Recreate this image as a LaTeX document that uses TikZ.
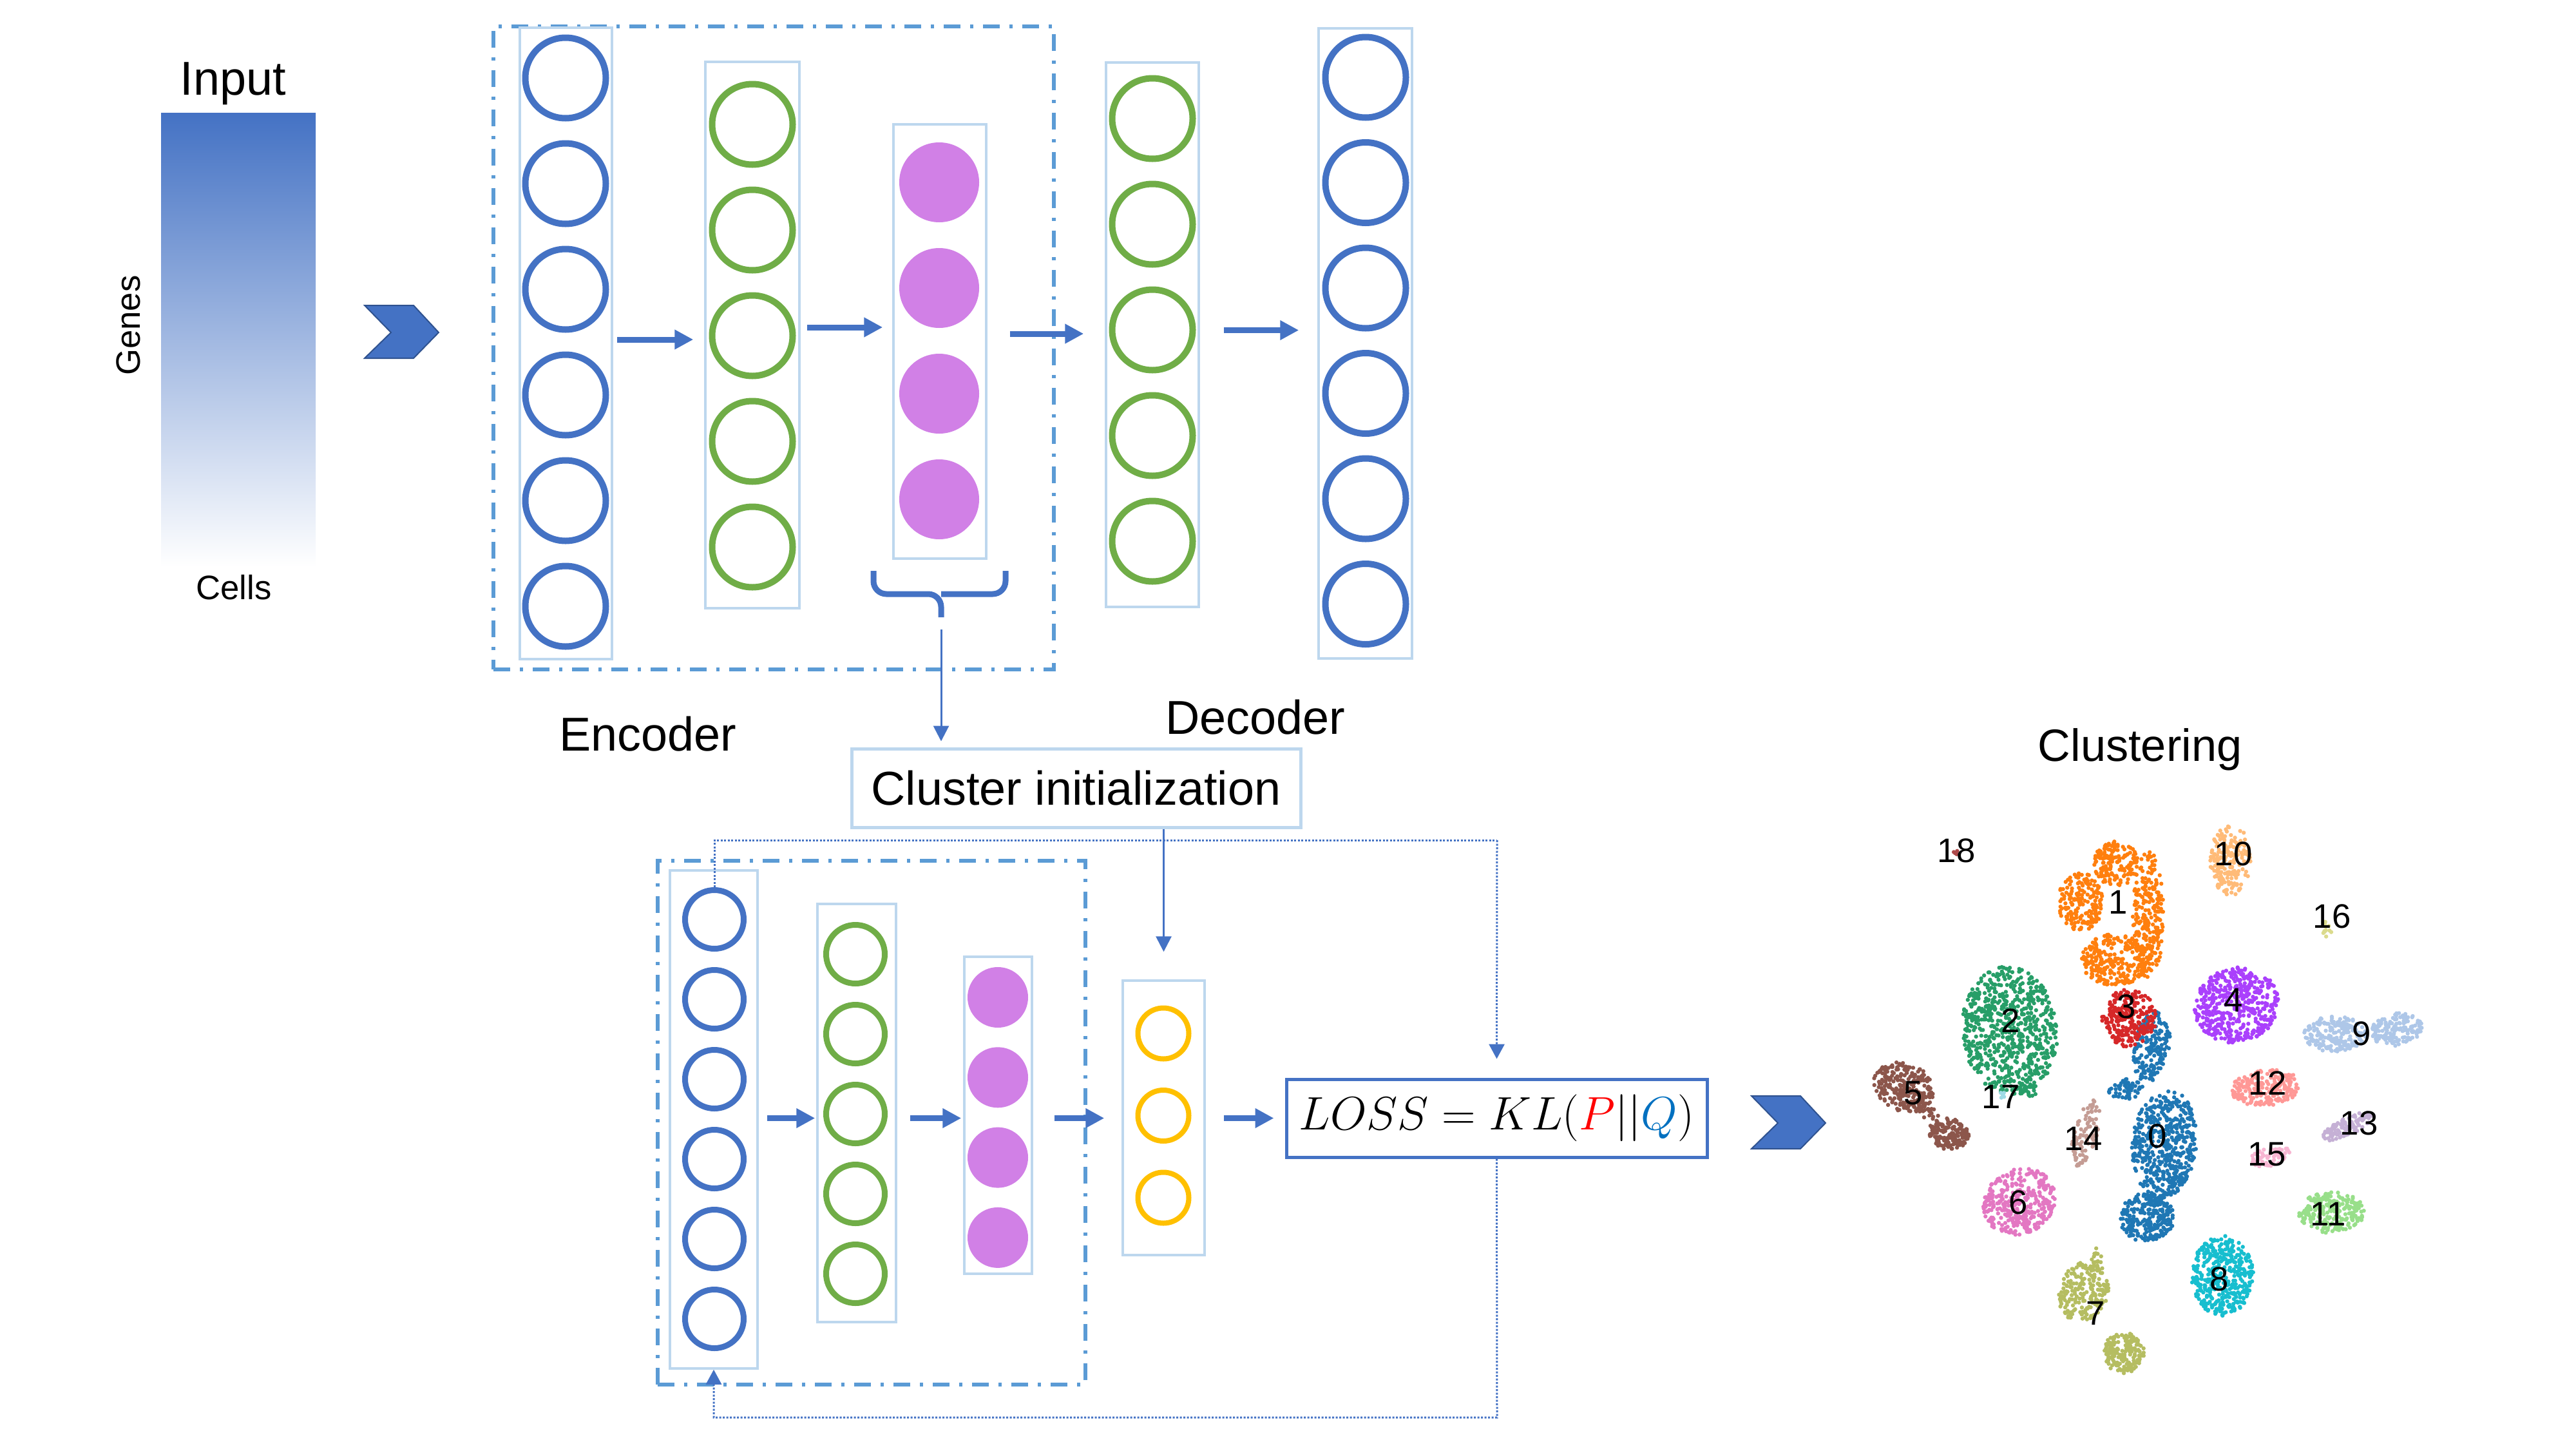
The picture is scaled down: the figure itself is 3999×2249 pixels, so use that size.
\documentclass[tikz,border=0pt]{standalone}
\usepackage[no-math]{fontspec}
\setmainfont{Liberation Sans}
\usetikzlibrary{arrows.meta,positioning,calc}
\definecolor{nnblue}{HTML}{4472C4}
\definecolor{nngreen}{HTML}{70AD47}
\definecolor{nnviolet}{HTML}{D180E6}
\definecolor{nnyellow}{HTML}{FFC000}
\definecolor{boxblue}{HTML}{BDD7EE}
\definecolor{dashblue}{HTML}{5B9BD5}
\definecolor{chevdark}{HTML}{2F528F}
\definecolor{qblue}{HTML}{0070C0}
\definecolor{c0}{HTML}{1F77B4}
\definecolor{c1}{HTML}{FF7F0E}
\definecolor{c2}{HTML}{279E68}
\definecolor{c3}{HTML}{D62728}
\definecolor{c4}{HTML}{AA40FC}
\definecolor{c5}{HTML}{8C564B}
\definecolor{c6}{HTML}{E377C2}
\definecolor{c7}{HTML}{B5BD61}
\definecolor{c8}{HTML}{17BECF}
\definecolor{c9}{HTML}{AEC7E8}
\definecolor{c10}{HTML}{FFBB78}
\definecolor{c11}{HTML}{98DF8A}
\definecolor{c12}{HTML}{FF9896}
\definecolor{c13}{HTML}{C5B0D5}
\definecolor{c14}{HTML}{C49C94}
\definecolor{c15}{HTML}{F7B6D2}
\definecolor{c16}{HTML}{DBDB8D}
\definecolor{c17}{HTML}{9EDAE5}
\definecolor{c18}{HTML}{AD494A}

\begin{document}
\begin{tikzpicture}[x=0.1mm,y=-0.1mm,
  ring/.style={circle,draw=#1,line width=1mm,minimum size=12.5mm,inner sep=0pt},
  dotn/.style={circle,fill=nnviolet,minimum size=12.4mm,inner sep=0pt},
  lring/.style={circle,draw=#1,line width=0.9mm,minimum size=9.1mm,inner sep=0pt},
  ldot/.style={circle,fill=nnviolet,minimum size=9.4mm,inner sep=0pt},
  yring/.style={circle,draw=nnyellow,line width=0.8mm,minimum size=7.9mm,inner sep=0pt},
  colbox/.style={draw=boxblue,line width=0.35mm,inner sep=0pt},
  encbox/.style={draw=dashblue,line width=0.55mm,inner sep=0pt,
    dash pattern=on 2.6mm off 1.5mm on 0.5mm off 1.5mm},
  flow/.style={nnblue,line width=0.9mm,-{Triangle[length=2.9mm,width=2.9mm]}},
  thinflow/.style={nnblue,line width=0.3mm,-{Triangle[length=2.4mm,width=2.4mm]}},
  loopline/.style={nnblue,line width=0.3mm,dash pattern=on 0.3mm off 0.25mm},
  big/.style={font=\fontsize{21}{25}\selectfont,inner sep=0pt},
  small/.style={font=\fontsize{15}{18}\selectfont,inner sep=0pt},
  clabel/.style={font=\fontsize{15}{18}\selectfont,inner sep=0pt}]

\useasboundingbox (0,0) rectangle (3999,2249);

\shade[top color=nnblue,middle color=nnblue!62,bottom color=white] (250,175) rectangle (490,880);
\node[big,anchor=base] (input) at (362,147) {Input};
\node[small,rotate=90,anchor=base] (genes) at (217,505) {Genes};
\node[small,anchor=base] (cells) at (363,930) {Cells};

\fill[nnblue,draw=chevdark,line width=0.2mm] (566,474) -- (642,474) -- (681,516) -- (642,556) -- (566,556) -- (607,516) -- cycle;
\fill[nnblue,draw=chevdark,line width=0.2mm] (2719,1701) -- (2795,1701) -- (2834,1743) -- (2795,1783) -- (2719,1783) -- (2760,1743) -- cycle;

\node[encbox,minimum width=87mm,minimum height=99.8mm] (enc) at (1201,540) {};
\node[colbox,minimum width=14.3mm,minimum height=98mm] (E1) at (878.5,533) {};
\node[colbox,minimum width=14.6mm,minimum height=84.8mm] (E2) at (1168,520) {};
\node[colbox,minimum width=14.4mm,minimum height=67.4mm] (E3) at (1459,530) {};
\node[colbox,minimum width=14.4mm,minimum height=84.5mm] (D1) at (1789,519.5) {};
\node[colbox,minimum width=14.5mm,minimum height=97.8mm] (D2) at (2119.5,533) {};
\foreach \k in {1,...,6} {
  \node[ring=nnblue] (e1-\k) at (878,{121+164*(\k-1)}) {};
  \node[ring=nnblue] (d2-\k) at (2120,{120+163.5*(\k-1)}) {};
}
\foreach \k in {1,...,5} {
  \node[ring=nngreen] (e2-\k) at (1168,{193+164*(\k-1)}) {};
  \node[ring=nngreen] (d1-\k) at (1789,{184+164*(\k-1)}) {};
}
\foreach \k in {1,...,4}
  \node[dotn] (e3-\k) at (1458,{283+164*(\k-1)}) {};

\draw[flow,shorten <=0.6mm,shorten >=1.7mm] ([yshift=0.6mm]E1.east) -- ([yshift=0.6mm]E1.east -| E2.west);
\draw[flow,shorten <=1mm,shorten >=1.5mm] ([yshift=1.2mm]E2.east) -- ([yshift=1.2mm]E2.east -| E3.west);
\draw[flow,shorten <=3.3mm,shorten >=3.3mm] ([yshift=1.2mm]E3.west -| enc.east) ++(-10.4mm,0) -- ([yshift=1.2mm]E3.west -| D1.west);
\draw[flow,shorten <=3.7mm,shorten >=2.9mm] ([yshift=0.7mm]D1.east) -- ([yshift=0.7mm]D1.east -| D2.west);

\draw[nnblue,line width=0.9mm,rounded corners=2mm] (1356,886) |- (1461,922) -- (1461,958);
\draw[nnblue,line width=0.9mm,rounded corners=2mm] (1561,886) |- (1461,922);
\coordinate (brace) at (1461,958);

\node[big,anchor=base] (enclabel) at (1006,1165) {Encoder};
\node[big,anchor=base] (declabel) at (1949,1139) {Decoder};

\node[draw=boxblue,line width=0.5mm,minimum width=69.7mm,minimum height=12.2mm,big] (init) at (1670.5,1223) {Cluster initialization};
\draw[thinflow,shorten <=1.9mm,shorten >=0.9mm] (brace) -- (brace |- init.north);

\node[encbox,minimum width=66.4mm,minimum height=81.3mm] (lenc) at (1353,1742.5) {};
\node[colbox,minimum width=13.6mm,minimum height=77.3mm] (L1) at (1108,1737.5) {};
\node[colbox,minimum width=12.2mm,minimum height=64.9mm] (L2) at (1330,1727.5) {};
\node[colbox,minimum width=10.5mm,minimum height=49.2mm] (L3) at (1549.5,1731) {};
\node[colbox,minimum width=12.7mm,minimum height=42.6mm] (Y) at (1806.5,1735) {};
\foreach \k in {1,...,6}
  \node[lring=nnblue] (l1-\k) at (1109,{1427+124*(\k-1)}) {};
\foreach \k in {1,...,5}
  \node[lring=nngreen] (l2-\k) at (1328,{1481+124*(\k-1)}) {};
\foreach \k in {1,...,4}
  \node[ldot] (l3-\k) at (1549,{1548+124.3*(\k-1)}) {};
\foreach \k in {1,...,3}
  \node[yring] (y-\k) at (1806,{1604+127.5*(\k-1)}) {};

\node[draw=nnblue,line width=0.5mm,minimum width=65.3mm,minimum height=12.1mm,inner sep=0pt,font=\fontsize{20.5}{24}\selectfont] (loss) at (2323.5,1735.5)
  {$LOSS = KL(\textcolor{red}{P}||\textcolor{qblue}{Q})$};

\draw[flow,shorten <=1.3mm,shorten >=0.2mm] (L1.east |- loss) -- (L2.west |- loss);
\draw[flow,shorten <=2mm,shorten >=0.3mm] (L2.east |- loss) -- (L3.west |- loss);
\draw[flow,shorten <=3.3mm,shorten >=2.7mm] (L3.east |- loss) -- (Y.west |- loss);
\draw[flow,shorten <=2.8mm,shorten >=1.7mm] (Y.east |- loss) -- (loss.west);

\draw[thinflow,shorten >=4.3mm] (init.south -| Y.north) -- (Y.north);
\coordinate (looptop) at (2324,1304);
\coordinate (loopbot) at (2324,2200);
\draw[loopline] (l1-1.north) |- (looptop);
\draw[loopline,-{Triangle[length=2.3mm,width=2.4mm]},shorten >=2.9mm] (looptop) -- (loss.north);
\draw[loopline,-{Triangle[length=2.3mm,width=2.4mm]}] (loss.south) -- (loopbot) -| (L1.south);

\node[font=\fontsize{20}{24}\selectfont,inner sep=0pt,anchor=base] (clustering) at (3322,1181) {Clustering};

\pgfmathsetseed{4242}
\foreach \cx/\cy/\rx/\ry/\rot/\n/\col in {
  3340/1625/28/55/10/200/c0, 3298/1690/30/16/0/60/c0, 3360/1775/50/85/5/500/c0, 3333/1890/42/38/0/260/c0,
  3230/1400/35/45/0/190/c1, 3285/1340/35/35/0/160/c1, 3335/1420/24/100/0/250/c1, 3282/1490/52/40/0/270/c1,
  3120/1600/74/100/-5/720/c2, 3150/1690/14/14/0/20/c2,
  3305/1580/42/45/0/250/c3,
  3472/1560/66/58/-15/480/c4,
  2955/1688/48/38/20/260/c5, 3025/1760/32/24/10/170/c5, 2990/1727/22/12/35/22/c5,
  3135/1865/58/50/-30/350/c6,
  3235/2005/38/48/20/200/c7, 3297/2100/32/32/0/190/c7, 3255/1962/10/25/0/25/c7,
  3450/1980/48/62/0/400/c8,
  3625/1605/48/28/0/190/c9, 3720/1598/40/25/-10/160/c9,
  3463/1335/32/55/0/190/c10,
  3620/1882/52/32/0/230/c11,
  3518/1688/55/28/-5/220/c12,
  3645/1748/45/13/-25/100/c13,
  3237/1760/18/55/15/95/c14,
  3523/1795/32/15/-15/65/c15,
  3612/1440/8/14/0/16/c16,
  3107/1700/5/8/0/5/c17,
  3037/1322/5/4/0/4/c18} {
  \foreach \i in {1,...,\n} {
    \pgfmathsetmacro\ang{360*rnd}
    \pgfmathsetmacro\rad{sqrt(rnd)}
    \fill[\col] ({\cx+\rx*\rad*cos(\ang)*cos(\rot)-\ry*\rad*sin(\ang)*sin(\rot)},
                {\cy+\rx*\rad*cos(\ang)*sin(\rot)+\ry*\rad*sin(\ang)*cos(\rot)}) circle[radius=0.32mm];
  }
}

\foreach \lab/\x/\y in {18/3037/1320, 10/3467/1325, 1/3288/1400, 16/3620/1422, 4/3467/1552,
  2/3121/1584, 3/3301/1562, 9/3666/1604, 12/3520/1681, 5/2970/1697, 17/3106/1702,
  13/3662/1743, 14/3234/1767, 0/3349/1763, 15/3519/1792, 6/3133/1866, 11/3614/1884,
  8/3445/1985, 7/3253/2038}
  \node[clabel] (cl\lab) at (\x,\y) {\lab};
\end{tikzpicture}
\end{document}
